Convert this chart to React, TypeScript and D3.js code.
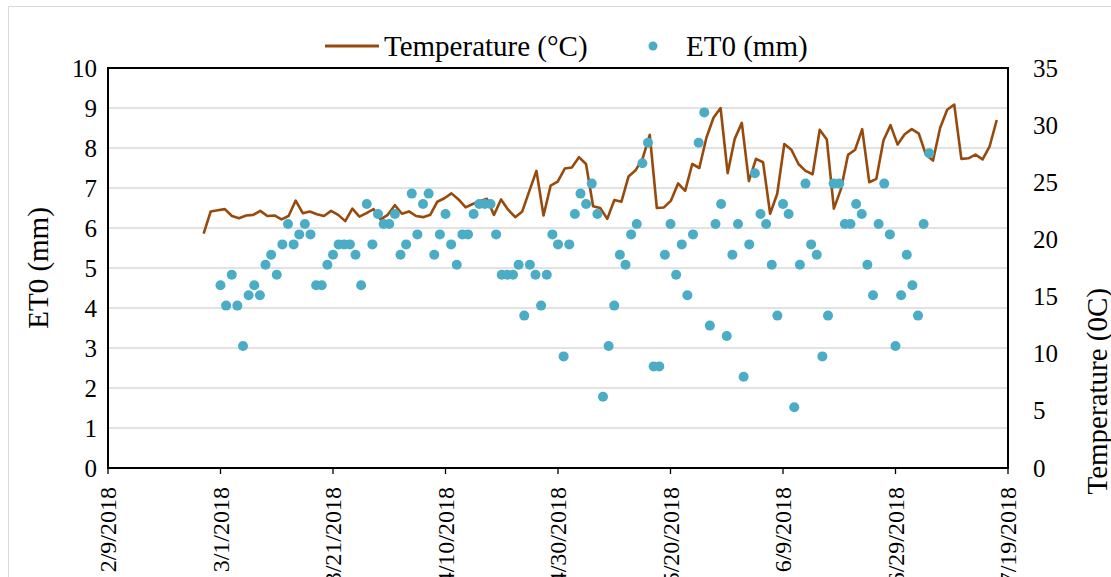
import React from 'react';
import * as d3 from 'd3';

// ET0 (mm), one value per day starting 3/1/2018
const et0Start = '3/1/2018';
const et0Values: number[] = [
  4.57, 4.06, 4.83, 4.06, 3.05, 4.32, 4.57, 4.32, 5.08, 5.33,
  4.83, 5.59, 6.10, 5.59, 5.84, 6.10, 5.84, 4.57, 4.57, 5.08,
  5.33, 5.59, 5.59, 5.59, 5.33, 4.57, 6.60, 5.59, 6.35, 6.10,
  6.10, 6.35, 5.33, 5.59, 6.86, 5.84, 6.60, 6.86, 5.33, 5.84,
  6.35, 5.59, 5.08, 5.84, 5.84, 6.35, 6.60, 6.60, 6.60, 5.84,
  4.83, 4.83, 4.83, 5.08, 3.81, 5.08, 4.83, 4.06, 4.83, 5.84,
  5.59, 2.79, 5.59, 6.35, 6.86, 6.60, 7.11, 6.35, 1.78, 3.05,
  4.06, 5.33, 5.08, 5.84, 6.10, 7.62, 8.13, 2.54, 2.54, 5.33,
  6.10, 4.83, 5.59, 4.32, 5.84, 8.13, 8.89, 3.56, 6.10, 6.60,
  3.30, 5.33, 6.10, 2.28, 5.59, 7.37, 6.35, 6.10, 5.08, 3.81,
  6.60, 6.35, 1.52, 5.08, 7.11, 5.59, 5.33, 2.79, 3.81, 7.11,
  7.11, 6.10, 6.10, 6.60, 6.35, 5.08, 4.32, 6.10, 7.11, 5.84,
  3.05, 4.32, 5.33, 4.57, 3.81, 6.10, 7.87,
];

// Temperature (°C), evenly spread between these two dates
const tempStart = '2/26/2018';
const tempEnd = '7/17/2018';
const tempValues: number[] = [
  20.5, 22.45, 22.55, 22.65, 22.05, 21.85, 22.1, 22.15, 22.5, 22.05,
  22.1, 21.75, 22.05, 23.4, 22.3, 22.45, 22.2, 22.05, 22.5, 22.15,
  21.6, 22.7, 22.0, 22.3, 22.65, 21.75, 22.15, 23.0, 22.25, 22.45,
  22.05, 21.95, 22.15, 23.3, 23.6, 24.03, 23.5, 22.8, 23.1, 23.35,
  23.55, 22.15, 23.5, 22.6, 21.95, 22.45, 24.25, 26.0, 22.1, 24.7,
  25.05, 26.2, 26.3, 27.2, 26.6, 22.9, 22.75, 21.8, 23.45, 23.3,
  25.5, 26.05, 27.1, 29.15, 22.75, 22.8, 23.4, 24.9, 24.25, 26.6,
  26.25, 28.9, 30.65, 31.5, 25.8, 28.8, 30.2, 25.1, 27.05, 26.75,
  22.25, 24.0, 28.35, 27.85, 26.6, 26.0, 25.7, 29.6, 28.75, 22.7,
  24.4, 27.4, 27.85, 29.65, 25.0, 25.3, 28.65, 30.0, 28.3, 29.2,
  29.65, 29.25, 27.4, 26.9, 29.75, 31.35, 31.8, 27.05, 27.1, 27.42,
  27.0, 28.15, 30.45,
];

const xTickLabels = [
  '2/9/2018', '3/1/2018', '3/21/2018', '4/10/2018', '4/30/2018',
  '5/20/2018', '6/9/2018', '6/29/2018', '7/19/2018',
];
const et0Ticks = [0, 1, 2, 3, 4, 5, 6, 7, 8, 9, 10];
const tempTicks = [0, 5, 10, 15, 20, 25, 30, 35];

const W = 1111;
const H = 577;
const margin = { top: 68, right: 103, bottom: 109, left: 108 };
const font = '"Liberation Serif", "Times New Roman", serif';
const brown = '#974a0b';
const blue = '#4bacc6';
const txt = { fontFamily: font };

const parse = d3.timeParse('%m/%d/%Y');

const App: React.FC = () => {
  const left = margin.left;
  const right = W - margin.right;
  const top = margin.top;
  const bottom = H - margin.bottom;

  const tickDates = xTickLabels.map((s) => parse(s) as Date);
  const x = d3
    .scaleTime()
    .domain([tickDates[0], tickDates[tickDates.length - 1]])
    .range([left, right]);
  const yEt = d3.scaleLinear().domain([0, 10]).range([bottom, top]);
  const yT = d3.scaleLinear().domain([0, 35]).range([bottom, top]);

  const et0Day0 = parse(et0Start) as Date;
  const et0Points = et0Values.map((v, i) => ({
    date: d3.timeDay.offset(et0Day0, i),
    value: v,
  }));

  const tIdx = d3
    .scaleLinear()
    .domain([0, tempValues.length - 1])
    .range([x(parse(tempStart) as Date), x(parse(tempEnd) as Date)]);
  const tempLine = d3
    .line<number>()
    .x((_, i) => tIdx(i))
    .y((d) => yT(d));

  return (
    <svg
      width={W}
      height={H}
      style={{ position: 'absolute', left: 0, top: 0, display: 'block', background: '#fff' }}
    >
      {/* chart area border */}
      <rect x={8.5} y={6.5} width={W + 20} height={H + 20} fill="#fff" stroke="#d9d9d9" />

      {/* gridlines */}
      {et0Ticks.slice(1).map((t) => (
        <line key={t} x1={left} x2={right} y1={yEt(t)} y2={yEt(t)} stroke="#d9d9d9" strokeWidth={1.3} />
      ))}

      {/* temperature line */}
      <path d={tempLine(tempValues) || ''} fill="none" stroke={brown} strokeWidth={2.6} strokeLinejoin="round" />

      {/* ET0 points */}
      {et0Points.map((p, i) => (
        <circle key={i} cx={x(p.date)} cy={yEt(p.value)} r={5} fill={blue} />
      ))}

      {/* plot border */}
      <rect x={left} y={top} width={right - left} height={bottom - top} fill="none" stroke="#000" strokeWidth={2} />

      {/* x ticks */}
      {tickDates.map((d, i) => (
        <g key={i} transform={`translate(${x(d)},${bottom})`}>
          <line y1={0} y2={6} stroke="#000" strokeWidth={1.3} />
          <text
            transform="translate(0,19) rotate(-90)"
            textAnchor="end"
            dominantBaseline="central"
            fontSize={24}
            fill="#000"
            style={txt}
          >
            {xTickLabels[i]}
          </text>
        </g>
      ))}

      {/* left axis labels */}
      {et0Ticks.map((t) => (
        <text key={t} x={left - 11} y={yEt(t)} textAnchor="end" dominantBaseline="central" fontSize={25} fill="#000" style={txt}>
          {t}
        </text>
      ))}

      {/* right axis labels */}
      {tempTicks.map((t) => (
        <text key={t} x={right + 25} y={yT(t)} textAnchor="start" dominantBaseline="central" fontSize={25} fill="#000" style={txt}>
          {t}
        </text>
      ))}

      {/* axis titles */}
      <text
        transform={`translate(38,${(top + bottom) / 2}) rotate(-90)`}
        textAnchor="middle"
        dominantBaseline="central"
        fontSize={29}
        style={txt}
      >
        ET0 (mm)
      </text>
      <text
        transform="translate(1097,288) rotate(-90)"
        textAnchor="end"
        dominantBaseline="central"
        fontSize={29}
        style={txt}
      >
        Temperature (0C)
      </text>

      {/* legend */}
      <line x1={325} x2={379} y1={46} y2={46} stroke={brown} strokeWidth={3} />
      <text x={384} y={46} dominantBaseline="central" fontSize={29} style={txt}>
        Temperature (°C)
      </text>
      <circle cx={653} cy={46} r={4.5} fill={blue} />
      <text x={686} y={46} dominantBaseline="central" fontSize={29} style={txt}>
        ET0 (mm)
      </text>
    </svg>
  );
};

export default App;
